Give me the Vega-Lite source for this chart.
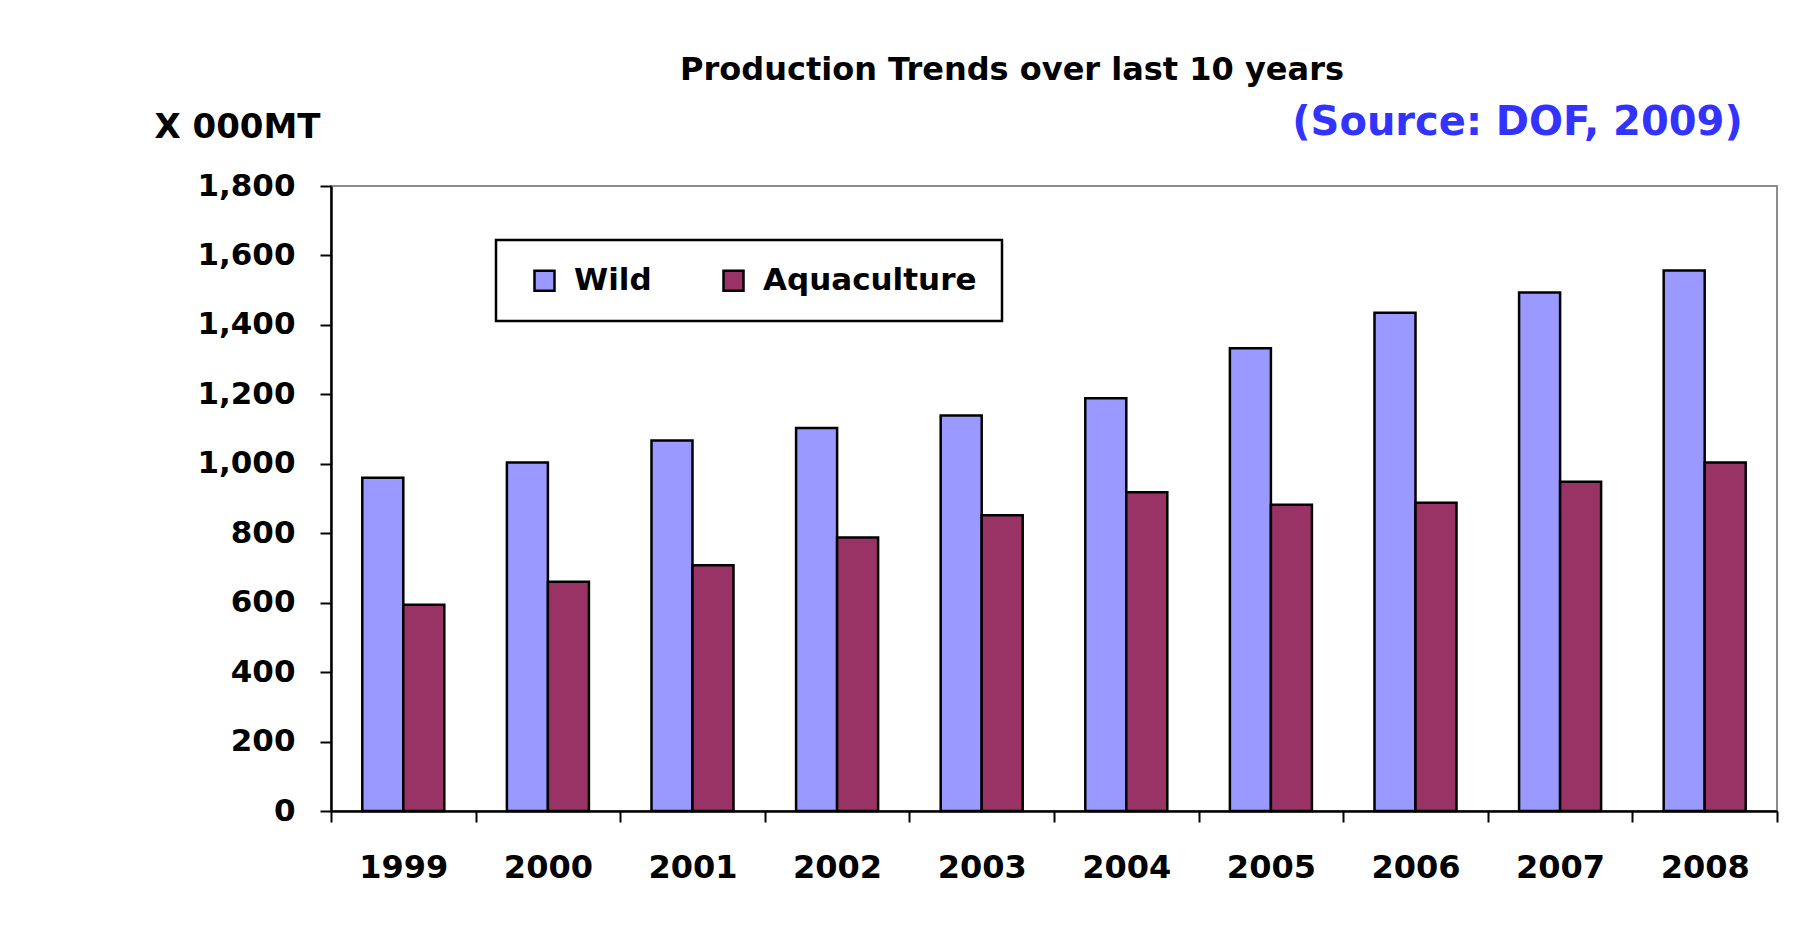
{
  "$schema": "https://vega.github.io/schema/vega-lite/v6.json",
  "width": 1446,
  "height": 625,
  "autosize": {"type": "none"},
  "padding": {"left": 331, "top": 186, "right": 43, "bottom": 114},
  "background": "white",
  "title": {
    "text": "Production Trends over last 10 years",
    "font": "DejaVu Sans",
    "fontSize": 32,
    "fontWeight": "bold",
    "color": "black",
    "anchor": "middle",
    "dx": -42,
    "offset": 15
  },
  "data": {
    "values": [
      {"year": "1999", "type": "Wild", "value": 960},
      {"year": "1999", "type": "Aquaculture", "value": 594},
      {"year": "2000", "type": "Wild", "value": 1004},
      {"year": "2000", "type": "Aquaculture", "value": 660},
      {"year": "2001", "type": "Wild", "value": 1067},
      {"year": "2001", "type": "Aquaculture", "value": 708},
      {"year": "2002", "type": "Wild", "value": 1103},
      {"year": "2002", "type": "Aquaculture", "value": 788},
      {"year": "2003", "type": "Wild", "value": 1139},
      {"year": "2003", "type": "Aquaculture", "value": 852},
      {"year": "2004", "type": "Wild", "value": 1189},
      {"year": "2004", "type": "Aquaculture", "value": 918},
      {"year": "2005", "type": "Wild", "value": 1333},
      {"year": "2005", "type": "Aquaculture", "value": 882},
      {"year": "2006", "type": "Wild", "value": 1435},
      {"year": "2006", "type": "Aquaculture", "value": 888},
      {"year": "2007", "type": "Wild", "value": 1493},
      {"year": "2007", "type": "Aquaculture", "value": 948},
      {"year": "2008", "type": "Wild", "value": 1557},
      {"year": "2008", "type": "Aquaculture", "value": 1004}
    ]
  },
  "layer": [
    {
      "mark": {"type": "bar", "stroke": "black", "strokeWidth": 2.5},
      "encoding": {
        "x": {
          "field": "year",
          "type": "ordinal",
          "scale": {"paddingInner": 0, "paddingOuter": 0},
          "axis": {
            "title": null,
            "labelAngle": 0,
            "tickBand": "extent",
            "tickSize": 11,
            "tickWidth": 2,
            "tickColor": "black",
            "domainColor": "black",
            "domainWidth": 2.5,
            "labelPadding": 30,
            "labelFont": "DejaVu Sans",
            "labelFontSize": 32,
            "labelFontWeight": "bold",
            "labelColor": "black",
            "grid": false
          }
        },
        "xOffset": {
          "field": "type",
          "type": "nominal",
          "scale": {"domain": ["Wild", "Aquaculture"], "paddingOuter": 0.763, "paddingInner": 0}
        },
        "y": {
          "field": "value",
          "type": "quantitative",
          "scale": {"domain": [0, 1800], "nice": false},
          "axis": {
            "orient": "left",
            "values": [0, 200, 400, 600, 800, 1000, 1200, 1400, 1600, 1800],
            "format": ",.0f",
            "title": "X 000MT",
            "titleAngle": 0,
            "titleX": -94,
            "titleY": -59,
            "titleAlign": "center",
            "titleBaseline": "middle",
            "titleFont": "DejaVu Sans",
            "titleFontSize": 34,
            "titleFontWeight": "bold",
            "titleColor": "black",
            "labelFont": "DejaVu Sans",
            "labelFontSize": 31,
            "labelFontWeight": "bold",
            "labelColor": "black",
            "labelPadding": 25,
            "tickSize": 11,
            "tickWidth": 2,
            "tickColor": "black",
            "domainColor": "black",
            "domainWidth": 2.5,
            "grid": false
          }
        },
        "color": {
          "field": "type",
          "type": "nominal",
          "scale": {"domain": ["Wild", "Aquaculture"], "range": ["#9999FF", "#993366"]},
          "legend": {
            "orient": "none",
            "legendX": 165,
            "legendY": 54,
            "direction": "horizontal",
            "title": null,
            "strokeColor": "black",
            "fillColor": "white",
            "padding": 25,
            "symbolType": "square",
            "symbolSize": 400,
            "symbolStrokeColor": "black",
            "symbolStrokeWidth": 2.5,
            "symbolOpacity": 1,
            "symbolOffset": 8,
            "labelFont": "DejaVu Sans",
            "labelFontSize": 31,
            "labelFontWeight": "bold",
            "labelColor": "black",
            "labelOffset": 14,
            "labelLimit": 400,
            "columnPadding": 58
          }
        }
      }
    },
    {
      "mark": {"type": "tick", "opacity": 0},
      "encoding": {
        "x": {"field": "year", "type": "ordinal"},
        "y": {
          "field": "value",
          "type": "quantitative",
          "axis": {
            "orient": "right",
            "title": "(Source: DOF, 2009)",
            "titleAngle": 0,
            "titleX": -260,
            "titleY": -64,
            "titleAlign": "center",
            "titleBaseline": "middle",
            "titleFont": "DejaVu Sans",
            "titleFontSize": 40,
            "titleFontWeight": "bold",
            "titleColor": "#3333FF",
            "labels": false,
            "ticks": false,
            "domain": false,
            "grid": false
          }
        }
      }
    }
  ],
  "resolve": {"axis": {"y": "independent"}},
  "config": {
    "view": {"stroke": "#8c8c8c", "strokeWidth": 2},
    "font": "DejaVu Sans",
    "legend": {"strokeWidth": 2.5}
  }
}
